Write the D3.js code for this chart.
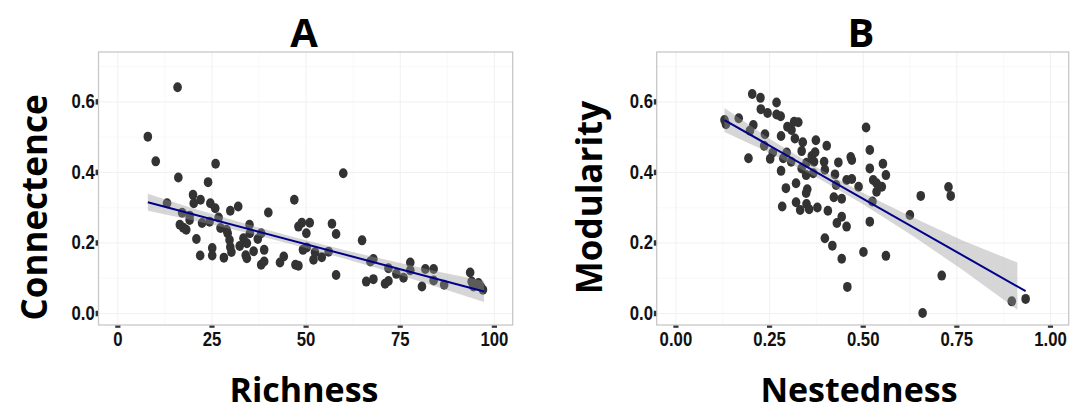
<!DOCTYPE html>
<html>
<head>
<meta charset="utf-8">
<script src="https://cdnjs.cloudflare.com/ajax/libs/d3/7.8.5/d3.min.js"></script>
<style>
  body { margin: 0; background: #fff; }
  .tick text { font-family: "Liberation Sans", Arial, sans-serif; font-weight: bold; font-size: 19.5px; fill: #111; }
  .ttl { font-family: "Open Sans", sans-serif; font-weight: bold; fill: #000; }
</style>
</head>
<body>
<div id="container"></div>
<script>
// panel A : richness vs connectence
const richness = [8.1, 10.2, 16, 13.2, 16.2, 26.1, 24.1, 20.1, 22.1, 24.7, 20.3, 26.0, 32.1, 30.0, 40.1,
  16.6, 17.5, 18.3, 17.2, 19.2, 19.2, 22.5, 24.5, 26.9, 27.4, 29.0, 21.0, 22.0, 25.2, 25.2, 28.3,
  29.3, 29.8, 30.0, 30.3, 32.5, 33.5, 34.4, 35.1, 35.2, 34.1, 34.4, 36.2, 37.3, 38.2, 39.0, 38.2,
  39.0, 43.2, 44.2, 47.0, 48.1, 49.0, 51.1, 50.2, 49.3, 50.3, 52.1, 52.5, 54.3, 56.1, 57.0, 58.1,
  58.1, 60.0, 65.0, 47.3, 48.1, 66.1, 68.0, 67.2, 68.0, 71.1, 72.0, 72.0, 74.1, 76.0, 77.8, 77.8,
  80.9, 81.8, 84.0, 84.0, 86.8, 93.7, 94.1, 95.9, 96.5, 97.1, 94.6];
const connectence = [0.50, 0.43, 0.64, 0.311, 0.384, 0.423, 0.371, 0.335, 0.321, 0.311, 0.311, 0.297, 0.302, 0.290, 0.285,
  0.250, 0.242, 0.236, 0.284, 0.276, 0.264, 0.255, 0.259, 0.271, 0.241, 0.236, 0.210, 0.163, 0.184, 0.163, 0.157,
  0.226, 0.207, 0.187, 0.173, 0.190, 0.212, 0.198, 0.250, 0.226, 0.164, 0.155, 0.175, 0.210, 0.226, 0.179, 0.137,
  0.146, 0.143, 0.160, 0.321, 0.245, 0.256, 0.256, 0.226, 0.179, 0.186, 0.151, 0.172, 0.158, 0.174, 0.253, 0.224,
  0.108, 0.396, 0.206, 0.137, 0.134, 0.089, 0.096, 0.146, 0.153, 0.083, 0.091, 0.127, 0.111, 0.100, 0.143, 0.121,
  0.075, 0.125, 0.125, 0.092, 0.080, 0.115, 0.089, 0.085, 0.075, 0.066, 0.075];
const fitRichness = [8.1, 97.4];
const fitConnectence = [0.314, 0.061];
const bandRichness = [8.1, 20, 35, 48, 60, 72.5, 85, 97.4];
const bandConnLow = [0.290, 0.263, 0.226, 0.190, 0.155, 0.116, 0.074, 0.031];
const bandConnHigh = [0.338, 0.297, 0.250, 0.212, 0.179, 0.148, 0.118, 0.091];

// panel B : nestedness vs modularity
const nestedness = [0.205, 0.227, 0.270, 0.228, 0.246, 0.270, 0.281, 0.131, 0.169, 0.317, 0.328, 0.299, 0.310, 0.208,
  0.199, 0.509, 0.239, 0.282, 0.319, 0.340, 0.375, 0.404, 0.237, 0.337, 0.373, 0.364, 0.519, 0.260, 0.297, 0.195,
  0.253, 0.288, 0.309, 0.350, 0.370, 0.397, 0.435, 0.468, 0.471, 0.519, 0.282, 0.337, 0.349, 0.368, 0.399, 0.426,
  0.457, 0.471, 0.489, 0.528, 0.537, 0.429, 0.295, 0.322, 0.352, 0.349, 0.423, 0.444, 0.526, 0.285, 0.322, 0.333,
  0.350, 0.357, 0.379, 0.407, 0.444, 0.431, 0.457, 0.519, 0.399, 0.419, 0.502, 0.444, 0.459, 0.554, 0.562, 0.537,
  0.551, 0.655, 0.729, 0.735, 0.626, 0.562, 0.711, 0.898, 0.935, 0.660, 0.135];
const modularity = [0.621, 0.610, 0.597, 0.578, 0.567, 0.563, 0.558, 0.547, 0.552, 0.542, 0.541, 0.528, 0.519, 0.533,
  0.517, 0.526, 0.507, 0.502, 0.495, 0.484, 0.490, 0.474, 0.474, 0.459, 0.456, 0.445, 0.462, 0.455, 0.455, 0.439,
  0.437, 0.439, 0.429, 0.426, 0.429, 0.429, 0.427, 0.442, 0.434, 0.410, 0.403, 0.410, 0.391, 0.396, 0.406, 0.393,
  0.377, 0.380, 0.358, 0.377, 0.344, 0.363, 0.354, 0.368, 0.351, 0.340, 0.328, 0.324, 0.316, 0.302, 0.314, 0.292,
  0.309, 0.294, 0.299, 0.290, 0.273, 0.255, 0.245, 0.259, 0.212, 0.191, 0.173, 0.154, 0.074, 0.423, 0.391, 0.368,
  0.358, 0.332, 0.357, 0.332, 0.278, 0.162, 0.106, 0.033, 0.040, 0.000, 0.535];
const fitNestedness = [0.131, 0.935];
const fitModularity = [0.547, 0.062];
const bandNestedness = [0.131, 0.25, 0.38, 0.5, 0.63, 0.77, 0.913];
const bandModLow = [0.513, 0.455, 0.383, 0.309, 0.221, 0.120, 0.009];
const bandModHigh = [0.581, 0.495, 0.411, 0.341, 0.273, 0.204, 0.143];

// ticks
const richTicks = [0, 25, 50, 75, 100];
const nestTicks = [0, 0.25, 0.5, 0.75, 1];
const nestTickLabels = ['0.00', '0.25', '0.50', '0.75', '1.00'];
const yTicks = [0, 0.2, 0.4, 0.6];
const yTickLabels = ['0.0', '0.2', '0.4', '0.6'];

const W = 1089, H = 419;
const panelTop = 52, panelBottom = 325;
const narrow = 0.86; // squeeze tick labels like a narrow face

const svg = d3.select('#container')
  .append('svg')
  .attr('width', W)
  .attr('height', H);

svg.append('rect').attr('width', W).attr('height', H).attr('fill', '#fff');

function drawPanel(p) {
  const x = d3.scaleLinear().domain(p.xDomain).range([p.left, p.right]);
  const y = d3.scaleLinear().domain([-0.034, 0.74]).range([panelBottom, panelTop]);
  const g = svg.append('g');

  const mid = a => a.slice(1).map((v, i) => (v + a[i]) / 2);

  // faint grid
  const grid = (sel, ax, vals, size, col, w) => sel.call(ax.tickValues(vals).tickSize(size).tickFormat(''))
    .call(s => s.select('.domain').remove())
    .call(s => s.selectAll('line').attr('stroke', col).attr('stroke-width', w));
  g.append('g').attr('transform', `translate(0,${panelBottom})`)
    .call(s => grid(s, d3.axisBottom(x), mid(p.xTicks), -(panelBottom - panelTop), '#f6f6f6', 0.7));
  g.append('g').attr('transform', `translate(${p.left},0)`)
    .call(s => grid(s, d3.axisLeft(y), mid(yTicks).concat([0.7]), -(p.right - p.left), '#f6f6f6', 0.7));
  g.append('g').attr('transform', `translate(0,${panelBottom})`)
    .call(s => grid(s, d3.axisBottom(x), p.xTicks, -(panelBottom - panelTop), '#f0f0f0', 1));
  g.append('g').attr('transform', `translate(${p.left},0)`)
    .call(s => grid(s, d3.axisLeft(y), yTicks, -(p.right - p.left), '#f0f0f0', 1));

  // points
  g.selectAll('.pt')
    .data(p.xs.map((v, i) => [v, p.ys[i]]))
    .enter()
    .append('ellipse')
    .attr('cx', d => x(d[0]))
    .attr('cy', d => y(d[1]))
    .attr('rx', 4.3)
    .attr('ry', 5)
    .attr('fill', '#333');

  // confidence band + fit
  const band = p.bandX.map((v, i) => ({ x: v, lo: p.bandLo[i], hi: p.bandHi[i] }));
  g.append('path')
    .datum(band)
    .attr('fill', 'rgb(153,153,153)')
    .attr('fill-opacity', 0.4)
    .attr('d', d3.area().x(d => x(d.x)).y0(d => y(d.lo)).y1(d => y(d.hi)));
  g.append('path')
    .datum(p.fitX.map((v, i) => [v, p.fitY[i]]))
    .attr('fill', 'none')
    .attr('stroke', '#00008b')
    .attr('stroke-width', 2)
    .attr('d', d3.line().x(d => x(d[0])).y(d => y(d[1])));

  // panel border
  g.append('rect')
    .attr('x', p.left).attr('y', panelTop)
    .attr('width', p.right - p.left).attr('height', panelBottom - panelTop)
    .attr('fill', 'none').attr('stroke', '#c8c8c8').attr('stroke-width', 1.3);

  // axes
  const xa = g.append('g')
    .attr('transform', `translate(0,${panelBottom + 0.6})`)
    .call(d3.axisBottom(x).tickValues(p.xTicks).tickFormat((d, i) => p.xTickLabels[i]).tickSize(2.2));
  xa.select('.domain').remove();
  xa.selectAll('line').attr('stroke', '#333').attr('stroke-width', 5.2);
  xa.selectAll('text').attr('y', 20).attr('dy', null)
    .attr('transform', `scale(${narrow},1)`);

  const ya = g.append('g')
    .attr('transform', `translate(${p.left - 0.5},0)`)
    .call(d3.axisLeft(y).tickValues(yTicks).tickFormat((d, i) => yTickLabels[i]).tickSize(2.4));
  ya.select('.domain').remove();
  ya.selectAll('line').attr('stroke', '#333').attr('stroke-width', 5.5);
  ya.selectAll('text').attr('x', -3.2 / narrow)
    .attr('transform', `scale(${narrow},1)`);

  // titles
  g.append('text').attr('class', 'ttl')
    .attr('x', p.titleX).attr('y', 46.5)
    .attr('text-anchor', 'middle').style('font-size', '40px')
    .text(p.title);
  g.append('text').attr('class', 'ttl')
    .attr('x', p.xTitleX).attr('y', 401.5)
    .attr('text-anchor', 'middle').style('font-size', '34px')
    .text(p.xTitle);
  g.append('text').attr('class', 'ttl')
    .attr('transform', `translate(${p.yTitleX},${p.yTitleY}) rotate(-90)`)
    .attr('text-anchor', 'middle').style('font-size', '35px')
    .text(p.yTitle);
}

drawPanel({
  left: 98.5, right: 512.7, xDomain: [-5, 105],
  xs: richness, ys: connectence,
  xTicks: richTicks, xTickLabels: richTicks.map(String),
  fitX: fitRichness, fitY: fitConnectence,
  bandX: bandRichness, bandLo: bandConnLow, bandHi: bandConnHigh,
  title: 'A', titleX: 304,
  xTitle: 'Richness', xTitleX: 304,
  yTitle: 'Connectence', yTitleX: 46.5, yTitleY: 207.5
});

drawPanel({
  left: 656.7, right: 1068.7, xDomain: [-0.05, 1.05],
  xs: nestedness, ys: modularity,
  xTicks: nestTicks, xTickLabels: nestTickLabels,
  fitX: fitNestedness, fitY: fitModularity,
  bandX: bandNestedness, bandLo: bandModLow, bandHi: bandModHigh,
  title: 'B', titleX: 861,
  xTitle: 'Nestedness', xTitleX: 859,
  yTitle: 'Modularity', yTitleX: 602, yTitleY: 197.5
});
</script>
</body>
</html>
